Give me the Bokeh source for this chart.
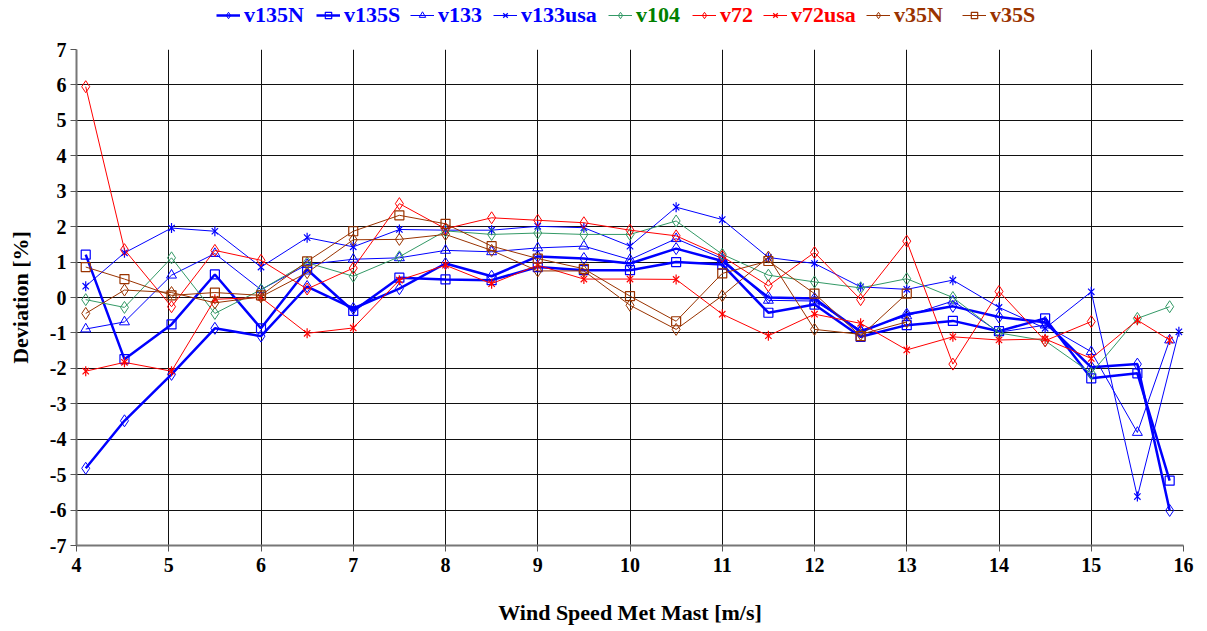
import math

from bokeh.embed import file_html
from bokeh.layouts import column
from bokeh.models import FixedTicker, Legend, LegendItem, PrintfTickFormatter, Range1d
from bokeh.plotting import figure
from bokeh.resources import INLINE

# Wind speed bin centres [m/s]
WIND = [4.1, 4.52, 5.03, 5.5, 6.0, 6.5, 7.0, 7.5, 8.0, 8.5, 9.0, 9.5, 10.0,
        10.5, 11.0, 11.5, 12.0, 12.5, 13.0, 13.5, 14.0, 14.5, 15.0, 15.5, 15.85]
WIND_V133USA = WIND[:-1] + [15.95]

# Deviation [%] per turbine data set
V135N = [-4.82, -3.48, -2.17, -0.87, -1.09, 0.31, -0.31, 0.25, 0.96, 0.60, 1.16, 1.10, 0.96,
         1.38, 1.03, 0.00, -0.03, -0.97, -0.47, -0.25, -0.55, -0.70, -1.97, -1.88, -6.01]
V135S = [1.21, -1.74, -0.76, 0.65, -0.87, 0.79, -0.38, 0.56, 0.51, 0.49, 0.86, 0.77, 0.77,
         1.00, 0.93, -0.43, -0.20, -1.11, -0.78, -0.66, -0.95, -0.59, -2.28, -2.14, -5.17]
V133 = [-0.89, -0.69, 0.63, 1.24, 0.22, 0.93, 1.08, 1.12, 1.33, 1.29, 1.40, 1.45, 1.07,
        1.66, 1.10, -0.08, -0.10, -0.92, -0.52, -0.10, -0.98, -0.78, -1.53, -3.81, -1.20]
V133USA = [0.32, 1.26, 1.96, 1.87, 0.86, 1.69, 1.43, 1.92, 1.90, 1.90, 2.01, 1.97, 1.45,
           2.55, 2.20, 1.13, 0.96, 0.30, 0.23, 0.49, -0.28, -0.87, 0.16, -5.62, -0.97]
V104 = [-0.06, -0.28, 1.12, -0.45, 0.22, 0.98, 0.60, 1.15, 1.88, 1.78, 1.82, 1.78, 1.78,
        2.16, 1.22, 0.63, 0.44, 0.27, 0.53, 0.00, -1.00, -1.22, -2.14, -0.59, -0.26]
V72 = [5.95, 1.35, -0.26, 1.33, 1.05, 0.24, 0.83, 2.65, 1.94, 2.25, 2.18, 2.11, 1.90,
       1.74, 1.16, 0.33, 1.27, -0.06, 1.59, -1.88, 0.17, -1.22, -0.68]
V72USA = [-2.08, -1.83, -2.08, -0.05, 0.00, -1.01, -0.86, 0.49, 0.91, 0.39, 0.91, 0.52, 0.52,
          0.51, -0.47, -1.08, -0.47, -0.73, -1.48, -1.11, -1.20, -1.17, -1.72, -0.64, -1.20]
V35N = [-0.45, 0.21, 0.14, -0.15, 0.02, 0.70, 1.63, 1.64, 1.78, 1.33, 0.75, 0.75, -0.22,
        -0.90, 0.05, 1.14, -0.90, -1.04, -0.69]
V35S = [0.86, 0.52, 0.06, 0.14, 0.06, 1.02, 1.87, 2.32, 2.08, 1.45, 1.10, 0.81, 0.04,
        -0.67, 0.68, 1.03, 0.11, -1.09, 0.11]

X_TICKS = list(range(4, 17))
Y_TICKS = list(range(-7, 8))

BLUE = "#0000FF"
GREEN = "#339966"
GREEN_TEXT = "#008000"
RED = "#FF0000"
BROWN = "#993300"
FONT = "Liberation Serif"

# name, x, y, colour, label colour, marker, line width
SERIES = [
    ("v135N", WIND, V135N, BLUE, BLUE, "diamond", 2.5),
    ("v135S", WIND, V135S, BLUE, BLUE, "square", 2.5),
    ("v133", WIND, V133, BLUE, BLUE, "triangle", 1.0),
    ("v133usa", WIND_V133USA, V133USA, BLUE, BLUE, "star", 1.0),
    ("v104", WIND, V104, GREEN, GREEN_TEXT, "diamond", 1.0),
    ("v72", WIND, V72, RED, RED, "diamond", 1.0),
    ("v72usa", WIND, V72USA, RED, RED, "star", 1.0),
    ("v35N", WIND, V35N, BROWN, BROWN, "diamond", 1.0),
    ("v35S", WIND, V35S, BROWN, BROWN, "square", 1.0),
]

# left edge of each legend entry, measured from the left of the plot frame [px]
LEGEND_OFFSETS = [140, 240, 334, 417, 532, 616, 687, 790, 886]

W, HEAD_H, MAIN_H = 1207, 40, 591


def draw_series(fig, xs, ys, col, marker, lw):
    """Line plus hollow markers for one data set; returns its renderers."""
    rs = [fig.line(xs, ys, line_color=col, line_width=lw)]
    if marker == "diamond":
        rs.append(fig.scatter(xs, ys, marker="diamond", size=12, line_color=col,
                              fill_alpha=0, line_width=1))
    elif marker == "square":
        rs.append(fig.scatter(xs, ys, marker="square", size=9, line_color=col,
                              fill_alpha=0, line_width=1.2))
    elif marker == "triangle":
        rs.append(fig.scatter(xs, ys, marker="triangle", size=10, line_color=col,
                              fill_alpha=0, line_width=1))
    else:
        # six-armed star: diagonal cross plus a vertical stroke
        rs.append(fig.scatter(xs, ys, marker="x", size=9, line_color=col, line_width=1.2))
        rs.append(fig.scatter(xs, ys, marker="dash", size=10, angle=math.pi / 2,
                              line_color=col, line_width=1.2))
    return rs


# ---- header strip holding the series legend (its ranges keep the data out of view) ----
head = figure(
    width=W, height=HEAD_H, output_backend="svg", toolbar_location=None,
    x_range=Range1d(0, 1), y_range=Range1d(0, 1),
    x_axis_type=None, y_axis_type=None,
    min_border=0,
)
head.grid.visible = False
head.outline_line_color = None
head.background_fill_color = "white"
head.border_fill_color = "white"

# ---- main chart ----
p = figure(
    width=W, height=MAIN_H,
    output_backend="svg", toolbar_location=None,
    x_range=Range1d(4, 16), y_range=Range1d(-7, 7),
    min_border_left=76, min_border_right=24, min_border_top=9, min_border_bottom=86,
)
p.background_fill_color = "white"
p.border_fill_color = "white"
p.outline_line_color = None

for ax in (p.xaxis[0], p.yaxis[0]):
    ax.major_label_text_font = FONT
    ax.major_label_text_font_size = "20px"
    ax.major_label_text_font_style = "bold"
    ax.major_label_text_color = "black"
    ax.axis_label_text_font = FONT
    ax.axis_label_text_font_size = "22px"
    ax.axis_label_text_font_style = "bold"
    ax.axis_label_text_color = "black"
    ax.minor_tick_line_color = None
    ax.major_tick_in = 0
    ax.major_tick_out = 6
    ax.major_tick_line_color = "#555555"
    ax.axis_line_color = "#777777"
    ax.axis_line_width = 2
    ax.formatter = PrintfTickFormatter(format="%d")

p.xaxis.ticker = FixedTicker(ticks=X_TICKS)
p.yaxis.ticker = FixedTicker(ticks=Y_TICKS)
p.xaxis.axis_label = "Wind Speed Met Mast [m/s]"
p.yaxis.axis_label = "Deviation [%]"
p.xaxis.major_label_standoff = 6
p.xaxis.axis_label_standoff = 25
p.yaxis.major_label_standoff = 4
p.yaxis.axis_label_standoff = 14

p.xgrid.ticker = FixedTicker(ticks=X_TICKS)
p.ygrid.ticker = FixedTicker(ticks=Y_TICKS)
for g in (p.xgrid[0], p.ygrid[0]):
    g.grid_line_color = "#111111"
    g.grid_line_width = 1

for (name, xs, ys, col, text_col, marker, lw), dx in zip(SERIES, LEGEND_OFFSETS):
    xs = xs[:len(ys)]
    draw_series(p, xs, ys, col, marker, lw)

    # legend sample with the same styling, one box per series so every
    # label carries its own colour
    sample = draw_series(head, xs, ys, col, marker, lw)
    leg = Legend(
        items=[LegendItem(label=name, renderers=sample)],
        orientation="horizontal",
        location=(dx, 12),
        label_text_font=FONT,
        label_text_font_size="22px",
        label_text_font_style="bold",
        label_text_color=text_col,
        label_standoff=4,
        glyph_width=24,
        glyph_height=16,
        spacing=0,
        padding=0,
        margin=0,
        border_line_color=None,
        background_fill_alpha=0,
    )
    head.add_layout(leg)

layout = column(head, p, spacing=0)
open("out.html", "w").write(file_html(layout, INLINE))
